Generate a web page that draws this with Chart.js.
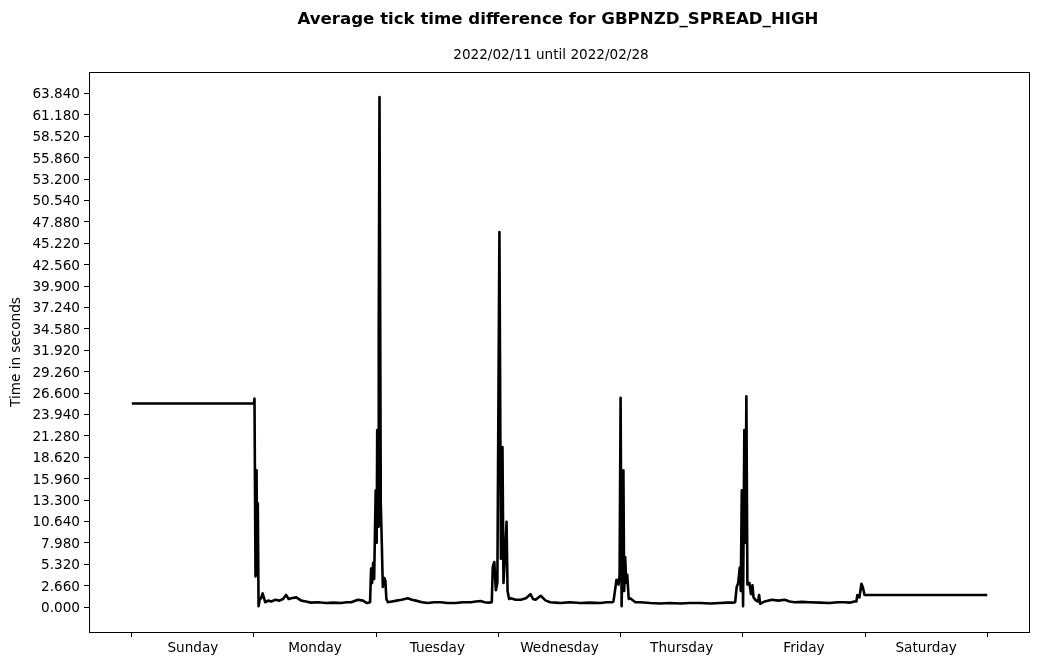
<!DOCTYPE html>
<html>
<head>
<meta charset="utf-8">
<script src="https://cdn.jsdelivr.net/npm/chart.js@4/dist/chart.umd.min.js"></script>
<style>
  body { margin: 0; background: #fff; }
  #wrap { width: 1039px; height: 664px; }
</style>
</head>
<body>
<div id="wrap"><canvas id="tick-chart" width="1039" height="664"></canvas></div>
<script>
// hours since start of the week (Sunday 00:00) and average tick gap in seconds
const hours = [
  0, 24.0, 24.1, 24.3, 24.5, 24.65, 24.75, 24.9, 25.1, 25.4, 25.7, 26.2, 26.8, 27.4, 28.2, 29.0, 29.7, 30.3, 30.8, 31.3, 32.3, 33.3, 34.2, 35.2, 36.5, 38.2, 39.6, 41.1, 42.2, 43.1, 44.4, 45.4, 46.2, 46.8,
  47.0, 47.2, 47.4, 47.6, 47.9, 48.1, 48.2, 48.4, 48.5, 48.65, 48.9, 49.1, 49.3, 49.6, 49.8, 50.0, 50.3,
  51.1, 52.0, 53.0, 54.2, 55.0, 55.8, 57.0, 58.1, 59.4, 60.7, 62.0, 63.6, 65.0, 66.6, 67.6, 68.5, 69.3, 70.1, 70.7,
  70.9, 71.2, 71.5, 71.8, 72.2, 72.5, 72.8, 73.0, 73.3, 73.6, 73.8, 74.1, 74.4,
  75.4, 76.4, 77.4, 78.3, 78.8, 79.3, 80.3, 81.3, 82.2, 83.2, 84.2, 86.0, 88.1, 90.0, 92.0, 93.2, 94.4, 94.6,
  95.0, 95.2, 95.6, 95.8, 96.0, 96.2, 96.35, 96.55, 96.7, 96.9, 97.1, 97.3, 97.6, 97.9, 98.9,
  99.9, 101.8, 103.8, 105.7, 107.7, 109.6, 111.6, 113.6, 115.5, 117.0, 118.0, 118.5,
  118.8, 119.1, 119.4, 119.6, 119.8, 120.05, 120.3, 120.5, 120.7, 120.9, 121.3, 121.6, 121.9, 122.1, 122.6, 123.0, 123.2, 123.4,
  124.3, 125.7, 127.0, 128.2, 129.2, 130.2, 131.6, 133.1, 135.1, 137.1, 138.6, 140.0, 141.0, 141.9, 142.3,
  142.5, 142.9, 143.3, 143.6, 143.9, 168.0
];
const seconds = [
  25.3, 25.3, 25.9, 3.8, 17.0, 4.0, 12.9, 0.1, 0.9, 1.1, 1.7, 0.6, 0.8, 0.7, 0.9, 0.8, 1.0, 1.5, 1.0, 1.1, 1.2, 0.8, 0.7, 0.55, 0.6, 0.5, 0.55, 0.5, 0.6, 0.6, 0.9, 0.8, 0.5, 0.6,
  4.8, 3.0, 5.5, 3.5, 14.5, 8.0, 22.0, 10.0, 34.5, 63.4, 12.9, 8.0, 2.5, 3.6, 3.3, 1.0, 0.6,
  0.7, 0.8, 0.9, 1.1, 0.9, 0.8, 0.6, 0.5, 0.6, 0.6, 0.5, 0.5, 0.6, 0.6, 0.7, 0.75, 0.6, 0.55, 0.6,
  5.0, 5.6, 2.1, 3.0, 46.6, 6.0, 19.9, 3.0, 6.5, 10.6, 2.0, 1.0, 1.1,
  0.9, 0.9, 1.1, 1.6, 1.0, 0.9, 1.4, 0.8, 0.6, 0.55, 0.5, 0.6, 0.5, 0.55, 0.5, 0.6, 0.6, 0.7,
  2.5, 3.4, 2.8, 4.0, 26.0, 0.1, 5.0, 17.0, 2.0, 6.2, 3.0, 4.0, 1.0, 1.1, 0.6,
  0.6, 0.5, 0.45, 0.5, 0.45, 0.5, 0.5, 0.45, 0.5, 0.55, 0.55, 0.6,
  2.5, 3.0, 4.9, 2.0, 14.5, 0.1, 22.0, 8.0, 26.2, 2.8, 3.0, 1.6, 2.7, 1.2, 0.8, 0.7, 1.5, 0.4,
  0.7, 0.9, 0.8, 0.9, 0.7, 0.6, 0.65, 0.6, 0.55, 0.5, 0.6, 0.6, 0.55, 0.7, 0.7,
  1.5, 1.2, 2.9, 2.4, 1.5, 1.5
];
const days = ['Sunday', 'Monday', 'Tuesday', 'Wednesday', 'Thursday', 'Friday', 'Saturday'];
const yStep = 2.66;
const yTickCount = 25;

const titleText = 'Average tick time difference for GBPNZD_SPREAD_HIGH';
const subtitleText = '2022/02/11 until 2022/02/28';
const FONT = "'DejaVu Sans', sans-serif";

// frame around the plot + the two title lines
const framePlugin = {
  id: 'frame',
  afterDraw(chart) {
    const { ctx, chartArea: a } = chart;
    ctx.save();
    ctx.strokeStyle = '#000';
    ctx.lineWidth = 1;
    ctx.strokeRect(a.left + 0.5, a.top + 0.5, a.right - a.left - 1, a.bottom - a.top);
    ctx.fillStyle = '#000';
    ctx.textAlign = 'center';
    ctx.textBaseline = 'middle';
    ctx.font = 'bold 16.6px ' + FONT;
    ctx.fillText(titleText, 558, 19.5);
    ctx.font = '13.6px ' + FONT;
    ctx.fillText(subtitleText, 551, 55);
    ctx.restore();
  }
};

new Chart(document.getElementById('tick-chart'), {
  type: 'line',
  data: {
    datasets: [{
      data: hours.map((h, i) => ({ x: h, y: seconds[i] })),
      borderColor: '#000',
      borderWidth: 2.6,
      borderJoinStyle: 'round',
      pointRadius: 0,
      tension: 0,
      fill: false
    }]
  },
  options: {
    responsive: false,
    animation: false,
    devicePixelRatio: 1,
    layout: { padding: { left: 0, right: 9, top: 72, bottom: 0 } },
    plugins: { legend: { display: false }, title: { display: false }, tooltip: { enabled: false } },
    scales: {
      x: {
        type: 'linear',
        min: -8.4,
        max: 176.4,
        afterBuildTicks: axis => {
          const t = [];
          for (let h = 0; h <= 168; h += 12) t.push({ value: h });
          axis.ticks = t;
        },
        afterFit: axis => { axis.height = 32; },
        ticks: {
          autoSkip: false,
          maxRotation: 0,
          padding: 3,
          color: '#000',
          font: { family: FONT, size: 13.6 },
          callback: v => (v % 24 === 12 ? days[(v - 12) / 24] : '')
        },
        grid: {
          drawOnChartArea: false,
          tickLength: 5,
          tickColor: ctx => (ctx.tick && ctx.tick.value % 24 === 0 ? '#000' : 'rgba(0,0,0,0)')
        },
        border: { display: false }
      },
      y: {
        min: -3.1,
        max: 66.5,
        afterBuildTicks: axis => {
          const t = [];
          for (let i = 0; i < yTickCount; i++) t.push({ value: +(i * yStep).toFixed(3) });
          axis.ticks = t;
        },
        afterFit: axis => { axis.width = 89; },
        ticks: {
          autoSkip: false,
          padding: 4,
          labelOffset: 1.5,
          color: '#000',
          font: { family: FONT, size: 13.6 },
          callback: v => Number(v).toFixed(3)
        },
        grid: { drawOnChartArea: false, tickLength: 5, tickColor: '#000' },
        border: { display: false },
        title: {
          display: true,
          text: 'Time in seconds',
          color: '#000',
          font: { family: FONT, size: 13.6 },
          padding: { top: 8, bottom: 0 }
        }
      }
    }
  },
  plugins: [framePlugin]
});
</script>
</body>
</html>
